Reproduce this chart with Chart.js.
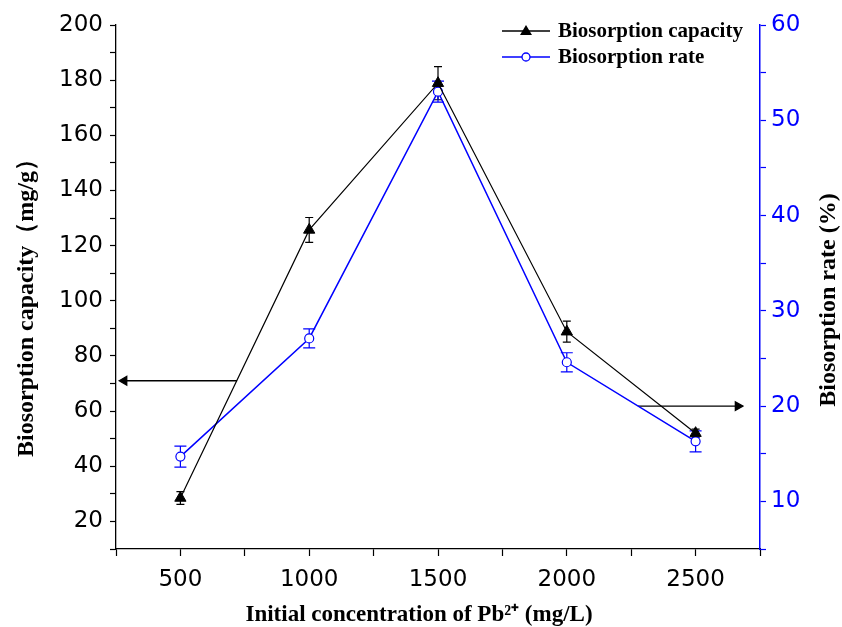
<!DOCTYPE html>
<html>
<head>
<meta charset="utf-8">
<script src="https://cdn.jsdelivr.net/npm/chart.js@4.4.1/dist/chart.umd.min.js"></script>
<style>
  html, body { margin: 0; padding: 0; background: #fff; }
  #wrap { width: 842px; height: 627px; }
</style>
</head>
<body>
<div id="wrap"><canvas id="chart" width="842" height="627"></canvas></div>
<script>
// data
const concentrations = [500, 1000, 1500, 2000, 2500]
const capacity = [28.5, 125.7, 178.9, 88.8, 52.0]
const capacityErr = [2.3, 4.5, 6.0, 3.8, 1.5]
const rate = [14.7, 27.1, 53.0, 24.6, 16.3]
const rateErr = [1.1, 1.0, 1.1, 1.0, 1.1]

// axis arrows (tail -> head), in data units
const leftArrowX = [720, 282]
const leftArrowY = [71, 71]
const rightArrowX = [2276, 2664]
const rightArrowY = [20, 20]

const xTicks = [500, 1000, 1500, 2000, 2500]
const leftTicks = [20, 40, 60, 80, 100, 120, 140, 160, 180, 200]
const rightTicks = [10, 20, 30, 40, 50, 60]

const xTitle = 'Initial concentration of Pb²⁺ (mg/L)'
const leftTitle = 'Biosorption capacity（mg/g）'
const rightTitle = 'Biosorption rate (%)'

const BLUE = '#0000ff'
const SERIF = "'Liberation Serif', 'Times New Roman', serif"
const SANS = "'DejaVu Sans', Arial, sans-serif"

const toPoints = (xs, ys) => xs.map((x, i) => ({ x, y: ys[i] }))

const errorBars = {
  id: 'errorBars',
  beforeDatasetsDraw(chart) {
    const ctx = chart.ctx
    const x = chart.scales.x
    const sets = [
      { axis: chart.scales.y, vals: capacity, err: capacityErr, color: '#000', cap: 4 },
      { axis: chart.scales.y1, vals: rate, err: rateErr, color: BLUE, cap: 6 },
    ]
    ctx.save()
    ctx.lineWidth = 1.2
    sets.forEach(s => {
      ctx.strokeStyle = s.color
      concentrations.forEach((c, i) => {
        const px = x.getPixelForValue(c)
        const top = s.axis.getPixelForValue(s.vals[i] + s.err[i])
        const bot = s.axis.getPixelForValue(s.vals[i] - s.err[i])
        ctx.beginPath()
        ctx.moveTo(px, top); ctx.lineTo(px, bot)
        ctx.moveTo(px - s.cap, top); ctx.lineTo(px + s.cap, top)
        ctx.moveTo(px - s.cap, bot); ctx.lineTo(px + s.cap, bot)
        ctx.stroke()
      })
    })
    ctx.restore()
  },
}

// axis titles drawn by hand: the right one reads bottom-to-top like the left
const axisTitles = {
  id: 'axisTitles',
  afterDraw(chart) {
    const ctx = chart.ctx
    ctx.save()
    ctx.fillStyle = '#000'
    ctx.textAlign = 'center'

    ctx.font = `bold 23px ${SERIF}`
    ctx.textBaseline = 'alphabetic'
    ctx.fillText(xTitle, 419, 621)

    ctx.font = `bold 24px ${SERIF}`
    ctx.textBaseline = 'middle'
    ;[[leftTitle, 27, 302], [rightTitle, 829, 300]].forEach(([t, x, y]) => {
      ctx.save()
      ctx.translate(x, y)
      ctx.rotate(-Math.PI / 2)
      ctx.fillText(t, 0, 0)
      ctx.restore()
    })
    ctx.restore()
  },
}

const legendBox = {
  id: 'legendBox',
  afterDraw(chart) {
    const ctx = chart.ctx
    const a = chart.chartArea
    const x0 = a.right - 258
    const rows = [
      { label: 'Biosorption capacity', color: '#000', marker: 'tri', y: a.top + 6 },
      { label: 'Biosorption rate', color: BLUE, marker: 'circ', y: a.top + 32 },
    ]
    ctx.save()
    rows.forEach(r => {
      ctx.strokeStyle = r.color
      ctx.lineWidth = 1.3
      ctx.beginPath()
      ctx.moveTo(x0, r.y); ctx.lineTo(x0 + 48, r.y)
      ctx.stroke()
      const cx = x0 + 24
      ctx.beginPath()
      if (r.marker === 'tri') {
        ctx.fillStyle = '#000'
        ctx.moveTo(cx, r.y - 6); ctx.lineTo(cx + 6, r.y + 4); ctx.lineTo(cx - 6, r.y + 4)
        ctx.closePath(); ctx.fill()
      } else {
        ctx.fillStyle = '#fff'
        ctx.arc(cx, r.y, 4, 0, Math.PI * 2)
        ctx.fill(); ctx.stroke()
      }
      ctx.fillStyle = '#000'
      ctx.font = `bold 21px ${SERIF}`
      ctx.textBaseline = 'middle'
      ctx.fillText(r.label, x0 + 56, r.y + 1)
    })
    ctx.restore()
  },
}

const onlyTicks = list => v => (list.includes(v) ? String(v) : '')

new Chart(document.getElementById('chart'), {
  type: 'line',
  data: {
    datasets: [
      {
        label: 'Biosorption capacity',
        data: toPoints(concentrations, capacity),
        yAxisID: 'y',
        borderColor: '#000',
        backgroundColor: '#000',
        borderWidth: 1.2,
        pointStyle: 'triangle',
        pointRadius: 6.5,
        pointBorderWidth: 1,
      },
      {
        label: 'Biosorption rate',
        data: toPoints(concentrations, rate),
        yAxisID: 'y1',
        borderColor: BLUE,
        backgroundColor: '#fff',
        borderWidth: 1.5,
        pointStyle: 'circle',
        pointRadius: 4.5,
        pointBorderWidth: 1.2,
      },
      {
        label: 'arrow-left',
        data: toPoints(leftArrowX, leftArrowY),
        yAxisID: 'y',
        borderColor: '#000',
        backgroundColor: '#000',
        borderWidth: 1.3,
        pointStyle: 'triangle',
        pointRadius: [0, 5],
        rotation: [0, 270],
      },
      {
        label: 'arrow-right',
        data: toPoints(rightArrowX, rightArrowY),
        yAxisID: 'y1',
        borderColor: '#000',
        backgroundColor: '#000',
        borderWidth: 1.3,
        pointStyle: 'triangle',
        pointRadius: [0, 5],
        rotation: [0, 90],
      },
    ],
  },
  options: {
    responsive: false,
    animation: false,
    layout: { padding: { top: 25, left: 0, right: 0, bottom: 0 } },
    plugins: {
      legend: { display: false },
      tooltip: { enabled: false },
    },
    scales: {
      x: {
        type: 'linear',
        min: 250,
        max: 2750,
        afterFit: s => { s.height = 78 },
        ticks: {
          stepSize: 250,
          autoSkip: false,
          maxRotation: 0,
          padding: 10,
          color: '#000',
          font: { family: SANS, size: 23 },
          callback: onlyTicks(xTicks),
        },
        grid: { drawOnChartArea: false, tickLength: 7, color: '#000', tickWidth: 1.2 },
        border: { color: '#000', width: 1.3 },
      },
      y: {
        position: 'left',
        min: 10,
        max: 200,
        afterFit: s => { s.width = 116 },
        ticks: {
          stepSize: 10,
          autoSkip: false,
          padding: 7,
          color: '#000',
          font: { family: SANS, size: 23 },
          callback: onlyTicks(leftTicks),
        },
        grid: { drawOnChartArea: false, tickLength: 6, color: '#000', tickWidth: 1.2 },
        border: { color: '#000', width: 1.3 },
      },
      y1: {
        position: 'right',
        min: 5,
        max: 60,
        afterFit: s => { s.width = 82 },
        ticks: {
          stepSize: 5,
          autoSkip: false,
          padding: 5,
          color: BLUE,
          font: { family: SANS, size: 23 },
          callback: onlyTicks(rightTicks),
        },
        grid: { drawOnChartArea: false, tickLength: 6, color: BLUE, tickWidth: 1.2 },
        border: { color: BLUE, width: 1.5 },
      },
    },
  },
  plugins: [errorBars, axisTitles, legendBox],
})
</script>
</body>
</html>
